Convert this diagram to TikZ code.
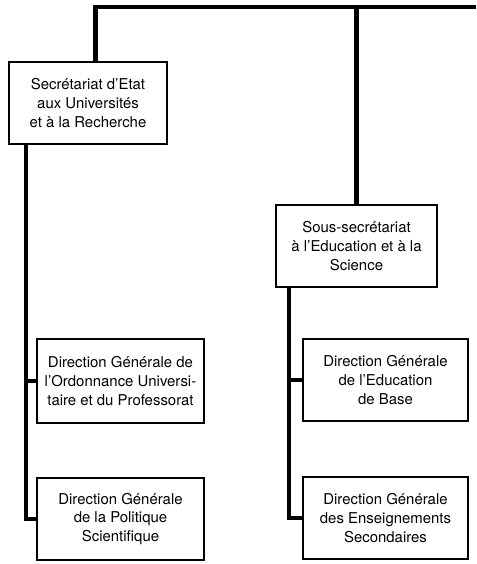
\documentclass[tikz,border=0pt]{standalone}
\usepackage{fontspec}
\setmainfont{TeX Gyre Heros}
\usepackage{tikz}

\begin{document}
\begin{tikzpicture}[x=0.75pt,y=-0.75pt,
        box/.style={rectangle,draw,line width=1.4pt,
                    minimum height=61pt,inner sep=2pt,
                    align=center,font=\fontsize{11.2}{14.2}\selectfont},
        trunk/.style={line width=3.3pt},
        branch/.style={line width=2.4pt}]
      \useasboundingbox (0,0) rectangle (476,564);
      \coordinate (edge) at (476,7);
      \node[box,minimum width=118.5pt] (sec)  at (88,103)    {Secrétariat d’Etat\\aux Universités\\et à la Recherche};
      \node[box,minimum width=121pt]   (sous) at (356.5,246) {Sous-secrétariat\\à l’Education et à la\\Science};
      \node[box,minimum width=125pt,minimum height=63pt] (ord) at (120.5,381) {Direction Générale de\\l’Ordonnance Universi-\\taire et du Professorat};
      \node[box,minimum width=125pt]   (pol)  at (120.5,519) {Direction Générale\\de la Politique\\Scientifique};
      \node[box,minimum width=124pt]   (base) at (385.5,380) {Direction Générale\\de l’Education\\de Base};
      \node[box,minimum width=124pt]   (sec2) at (385.5,518) {Direction Générale\\des Enseignements\\Secondaires};
      \draw[trunk] (edge) -| ([xshift=5.5pt]sec.north);
      \draw[trunk] (sous.north) -- (sous.north |- edge);
      \draw[trunk] ([xshift=13.5pt]sec.south west) coordinate (lt) |- (pol.west);
      \draw[branch] (ord.west) -- (ord.west -| lt);
      \draw[trunk] ([xshift=10.5pt]sous.south west) coordinate (rt) |- (sec2.west);
      \draw[branch] (base.west) -- (base.west -| rt);
    \end{tikzpicture}
\end{document}
